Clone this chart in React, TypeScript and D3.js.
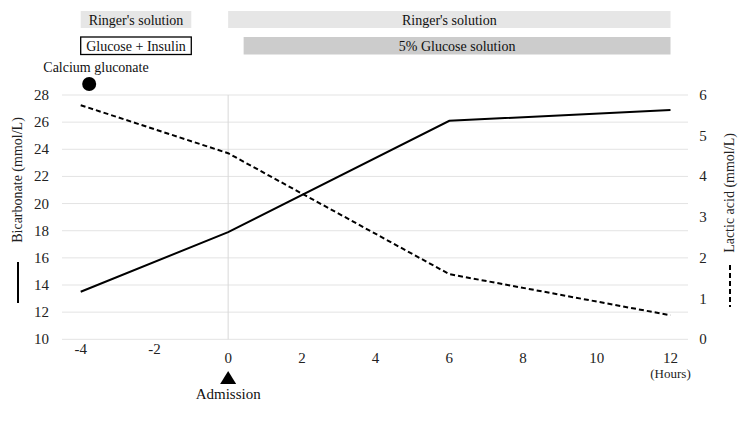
import React from "react";
import * as d3 from "d3";

const hours = [-4, 0, 6, 12];
const bicarbonate = [13.5, 17.9, 26.1, 26.9];
const lacticAcid = [5.75, 4.57, 1.6, 0.59];

const xTicks = [-4, -2, 0, 2, 4, 6, 8, 10, 12];
const raisedXTicks = [-4, -2];
const leftTicks = [10, 12, 14, 16, 18, 20, 22, 24, 26, 28];
const rightTicks = [0, 1, 2, 3, 4, 5, 6];

const infusionRow1 = [
  { label: "Ringer's solution", start: -4, end: -1, fill: "#e6e6e6", border: false },
  { label: "Ringer's solution", start: 0, end: 12, fill: "#e6e6e6", border: false },
];
const infusionRow2 = [
  { label: "Glucose + Insulin", start: -4, end: -1, fill: "#ffffff", border: true },
  { label: "5% Glucose solution", start: 0.42, end: 12, fill: "#cccccc", border: false },
];
const calciumHour = -3.77;
const admissionHour = 0;

const W = 750;
const H = 422;
const font = "Liberation Serif, Tinos, Times New Roman, DejaVu Serif, serif";

export default function App() {
  const x = d3.scaleLinear().domain([-4, 12]).range([80.7, 670.5]);
  const yL = d3.scaleLinear().domain([10, 28]).range([339.3, 95]);
  const yR = d3.scaleLinear().domain([0, 6]).range([339.3, 95]);
  const plotLeft = 62;
  const plotRight = 688;

  const solid = d3
    .line<number>()
    .x((_, i) => x(hours[i]))
    .y((d) => yL(d))(bicarbonate) as string;
  const dashed = d3
    .line<number>()
    .x((_, i) => x(hours[i]))
    .y((d) => yR(d))(lacticAcid) as string;

  const txt = { fontFamily: font } as React.CSSProperties;

  const rowBox = (row: typeof infusionRow1, y0: number, h: number) =>
    row.map((b, i) => {
      const x0 = x(b.start);
      const x1 = x(b.end);
      return (
        <g key={i}>
          <rect
            x={x0}
            y={y0}
            width={x1 - x0}
            height={h}
            fill={b.fill}
            stroke={b.border ? "#000" : "none"}
            strokeWidth={b.border ? 1.3 : 0}
          />
          <text
            x={(x0 + x1) / 2}
            y={y0 + h / 2 + 5}
            textAnchor="middle"
            fontSize={14}
            style={txt}
            fill="#111"
          >
            {b.label}
          </text>
        </g>
      );
    });

  const ax = x(admissionHour);

  return (
    <svg
      width={W}
      height={H}
      style={{ position: "absolute", left: 0, top: 0, background: "#fff" }}
    >
      {leftTicks.map((t) => (
        <line
          key={t}
          x1={plotLeft}
          x2={plotRight}
          y1={yL(t)}
          y2={yL(t)}
          stroke="#e3e3e3"
          strokeWidth={1}
        />
      ))}
      <line x1={ax} x2={ax} y1={yL(28)} y2={yL(10)} stroke="#d9d9d9" strokeWidth={1} />

      {leftTicks.map((t) => (
        <text key={t} x={49} y={yL(t) + 5} textAnchor="end" fontSize={15} style={txt} fill="#222">
          {t}
        </text>
      ))}
      {rightTicks.map((t) => (
        <text key={t} x={703} y={yR(t) + 5} textAnchor="middle" fontSize={15} style={txt} fill="#222">
          {t}
        </text>
      ))}
      {xTicks.map((t) => (
        <text
          key={t}
          x={x(t)}
          y={raisedXTicks.includes(t) ? 354 : 363}
          textAnchor="middle"
          fontSize={15}
          style={txt}
          fill="#222"
        >
          {t}
        </text>
      ))}
      <text x={x(12)} y={378} textAnchor="middle" fontSize={13} style={txt} fill="#222">
        (Hours)
      </text>

      <path d={solid} fill="none" stroke="#000" strokeWidth={2} />
      <path d={dashed} fill="none" stroke="#000" strokeWidth={2} strokeDasharray="5,3" />

      <text transform={`translate(22,180) rotate(-90)`} textAnchor="middle" fontSize={14} style={txt} fill="#222">
        Bicarbonate (mmol/L)
      </text>
      <line x1={18} x2={18} y1={262} y2={303} stroke="#000" strokeWidth={2} />
      <text transform={`translate(734,193) rotate(-90)`} textAnchor="middle" fontSize={14} style={txt} fill="#222">
        Lactic acid (mmol/L)
      </text>
      <line x1={730} x2={730} y1={265} y2={307} stroke="#000" strokeWidth={2} strokeDasharray="5,3" />

      {rowBox(infusionRow1, 11, 17)}
      {rowBox(infusionRow2, 37, 17.5)}

      <text x={96} y={72} textAnchor="middle" fontSize={14} style={txt} fill="#111">
        Calcium gluconate
      </text>
      <circle cx={x(calciumHour)} cy={84} r={7} fill="#000" />

      <path d={`M${ax - 8},384 L${ax + 8},384 L${ax},371 Z`} fill="#000" />
      <text x={ax} y={399} textAnchor="middle" fontSize={15} style={txt} fill="#111">
        Admission
      </text>
    </svg>
  );
}
